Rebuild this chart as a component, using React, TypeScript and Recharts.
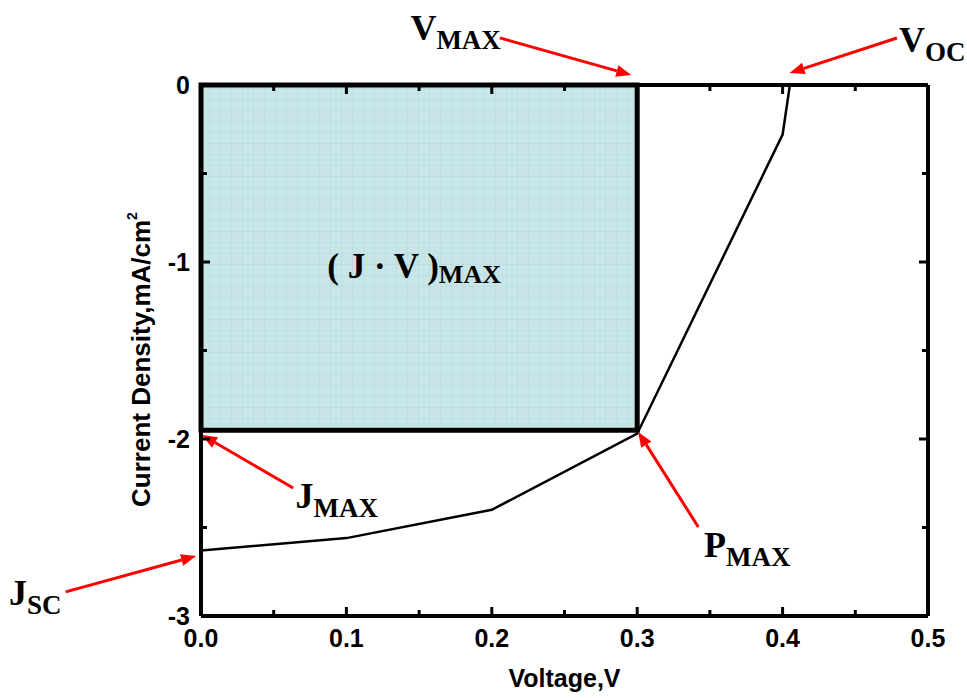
import React from "react";
import {
  ComposedChart,
  Line,
  XAxis,
  YAxis,
  ReferenceArea,
  ReferenceLine,
  ReferenceDot,
  Label,
} from "recharts";

// J-V curve
const voltage = [0, 0.1, 0.2, 0.3, 0.4, 0.405];
const currentDensity = [-2.63, -2.56, -2.4, -1.97, -0.28, 0];

// max power rectangle
const vMax = 0.3;
const jMax = -1.95;

const xMajorTicks = [0, 0.1, 0.2, 0.3, 0.4, 0.5];
const xMinorTicks = [0.05, 0.15, 0.25, 0.35, 0.45];
const yMajorTicks = [-3, -2, -1, 0];
const yMinorTicks = [-2.5, -1.5, -0.5];

// annotation labels (data units, baseline of text start)
const labelNames = ["V", "V", "J", "J", "P"];
const labelSubs = ["MAX", "OC", "MAX", "SC", "MAX"];
const labelX = [0.144, 0.48, 0.065, -0.132, 0.346];
const labelY = [0.254, 0.186, -2.39, -2.938, -2.667];

// arrows: from -> to (data units)
const arrowFromX = [0.2055, 0.4786, 0.0634, -0.0931, 0.342];
const arrowFromY = [0.266, 0.2655, -2.277, -2.864, -2.497];
const arrowToX = [0.2959, 0.4048, 0.0007, -0.0034, 0.3007];
const arrowToY = [0.0565, 0.0678, -1.977, -2.661, -1.96];

const data = voltage.map((v, i) => ({ v, j: currentDensity[i] }));

const xTicks = [...xMajorTicks, ...xMinorTicks].sort((a, b) => a - b);
const yTicks = [...yMajorTicks, ...yMinorTicks].sort((a, b) => a - b);

const SANS = "'Liberation Sans', Arial, sans-serif";
const SERIF = "'Liberation Serif', 'Times New Roman', serif";

const isMajor = (v: number, step: number) =>
  Math.abs(v / step - Math.round(v / step)) < 1e-6;

function BottomTick(props: any) {
  const { x, y, payload } = props;
  const major = isMajor(payload.value, 0.1);
  return (
    <g>
      <line x1={x} y1={y} x2={x} y2={y - (major ? 9 : 6)} stroke="#000" strokeWidth={3} />
      {major && (
        <text x={x} y={y + 31} textAnchor="middle" fontFamily={SANS} fontWeight="bold" fontSize={25} fill="#000">
          {payload.value.toFixed(1)}
        </text>
      )}
    </g>
  );
}

function TopTick(props: any) {
  const { x, y, payload } = props;
  const major = isMajor(payload.value, 0.1);
  return <line x1={x} y1={y} x2={x} y2={y + (major ? 9 : 6)} stroke="#000" strokeWidth={3} />;
}

function LeftTick(props: any) {
  const { x, y, payload } = props;
  const major = isMajor(payload.value, 1);
  return (
    <g>
      <line x1={x} y1={y} x2={x + (major ? 9 : 6)} y2={y} stroke="#000" strokeWidth={3} />
      {major && (
        <text x={x - 11} y={y + 9} textAnchor="end" fontFamily={SANS} fontWeight="bold" fontSize={25} fill="#000">
          {String(payload.value)}
        </text>
      )}
    </g>
  );
}

function RightTick(props: any) {
  const { x, y, payload } = props;
  const major = isMajor(payload.value, 1);
  return <line x1={x} y1={y} x2={x - (major ? 9 : 6)} y2={y} stroke="#000" strokeWidth={3} />;
}

function YTitle(props: any) {
  const { viewBox } = props;
  const cx = viewBox.x + 150;
  const cy = viewBox.y + viewBox.height / 2 + 9;
  return (
    <text
      transform={`translate(${cx},${cy}) rotate(-90)`}
      textAnchor="middle"
      fontFamily={SANS}
      fontWeight="bold"
      fontSize={26}
      fill="#000"
    >
      Current Density,mA/cm
      <tspan fontSize={14} dy={-13}>2</tspan>
    </text>
  );
}

function XTitle(props: any) {
  const { viewBox } = props;
  return (
    <text
      x={viewBox.x + viewBox.width / 2}
      y={viewBox.y + 71}
      textAnchor="middle"
      fontFamily={SANS}
      fontWeight="bold"
      fontSize={25}
      fill="#000"
    >
      Voltage,V
    </text>
  );
}

function Arrow(props: any) {
  const { x1, y1, x2, y2 } = props;
  if (![x1, y1, x2, y2].every((n) => typeof n === "number")) return null;
  const ang = Math.atan2(y2 - y1, x2 - x1);
  const len = 15;
  const half = 6;
  const bx = x2 - len * Math.cos(ang);
  const by = y2 - len * Math.sin(ang);
  const px = -Math.sin(ang) * half;
  const py = Math.cos(ang) * half;
  return (
    <g>
      <line x1={x1} y1={y1} x2={bx} y2={by} stroke="#ff0000" strokeWidth={3} />
      <polygon points={`${x2},${y2} ${bx + px},${by + py} ${bx - px},${by - py}`} fill="#ff0000" />
    </g>
  );
}

function annotationShape(main: string, sub: string) {
  return (props: any) => (
    <text x={props.cx} y={props.cy} fontFamily={SERIF} fontWeight="bold" fill="#000">
      <tspan fontSize={36}>{main}</tspan>
      <tspan fontSize={27} dy={9}>{sub}</tspan>
    </text>
  );
}

function areaLabel(props: any) {
  return (
    <text x={props.cx} y={props.cy} fontFamily={SERIF} fontWeight="bold" fill="#000">
      <tspan fontSize={35}>( J · V )</tspan>
      <tspan fontSize={26} dy={5}>MAX</tspan>
    </text>
  );
}

export default function App() {
  return (
    <div style={{ position: "absolute", left: 0, top: 0, width: 967, height: 698, background: "#fff" }}>
      <ComposedChart
        width={967}
        height={698}
        data={data}
        margin={{ top: 84, right: 38, bottom: 0, left: 0 }}
      >
        <defs>
          <pattern id="jvGrid" width="11" height="11" patternUnits="userSpaceOnUse">
            <rect width="11" height="11" fill="#c8e6e8" />
            <path d="M11 0 L0 0 0 11" fill="none" stroke="#b2d8db" strokeWidth="1" />
          </pattern>
        </defs>
        <XAxis
          dataKey="v"
          type="number"
          domain={[0, 0.5]}
          ticks={xTicks}
          interval={0}
          height={82}
          tickSize={0}
          tickMargin={0}
          tick={<BottomTick />}
          axisLine={{ stroke: "#000", strokeWidth: 4 }}
          tickLine={false}
          allowDataOverflow
        >
          <Label content={<XTitle />} />
        </XAxis>
        <XAxis
          xAxisId="top"
          dataKey="v"
          orientation="top"
          type="number"
          domain={[0, 0.5]}
          ticks={xTicks}
          interval={0}
          height={1}
          tickSize={0}
          tickMargin={0}
          tick={<TopTick />}
          axisLine={{ stroke: "#000", strokeWidth: 4 }}
          tickLine={false}
          allowDataOverflow
        />
        <YAxis
          type="number"
          domain={[-3, 0]}
          ticks={yTicks}
          interval={0}
          width={201}
          tickSize={0}
          tickMargin={0}
          tick={<LeftTick />}
          axisLine={{ stroke: "#000", strokeWidth: 4 }}
          tickLine={false}
          allowDataOverflow
        >
          <Label content={<YTitle />} />
        </YAxis>
        <YAxis
          yAxisId="right"
          dataKey="j"
          orientation="right"
          type="number"
          domain={[-3, 0]}
          ticks={yTicks}
          interval={0}
          width={1}
          tickSize={0}
          tickMargin={0}
          tick={<RightTick />}
          axisLine={{ stroke: "#000", strokeWidth: 4 }}
          tickLine={false}
          allowDataOverflow
        />
        <ReferenceArea
          x1={0}
          x2={vMax}
          y1={jMax}
          y2={0}
          fill="url(#jvGrid)"
          fillOpacity={1}
          stroke="#000"
          strokeWidth={5}
        />
        <ReferenceDot x={0.0869} y={-1.09} r={0} ifOverflow="visible" shape={areaLabel} />
        <Line
          dataKey="j"
          type="linear"
          stroke="#000"
          strokeWidth={2.5}
          dot={false}
          isAnimationActive={false}
        />
        {labelNames.map((name, i) => (
          <ReferenceDot
            key={`lab-${i}`}
            x={labelX[i]}
            y={labelY[i]}
            r={0}
            ifOverflow="visible"
            shape={annotationShape(name, labelSubs[i])}
          />
        ))}
        {arrowFromX.map((fx, i) => (
          <ReferenceLine
            key={`arr-${i}`}
            segment={[
              { x: fx, y: arrowFromY[i] },
              { x: arrowToX[i], y: arrowToY[i] },
            ]}
            ifOverflow="visible"
            shape={<Arrow />}
          />
        ))}
      </ComposedChart>
    </div>
  );
}
